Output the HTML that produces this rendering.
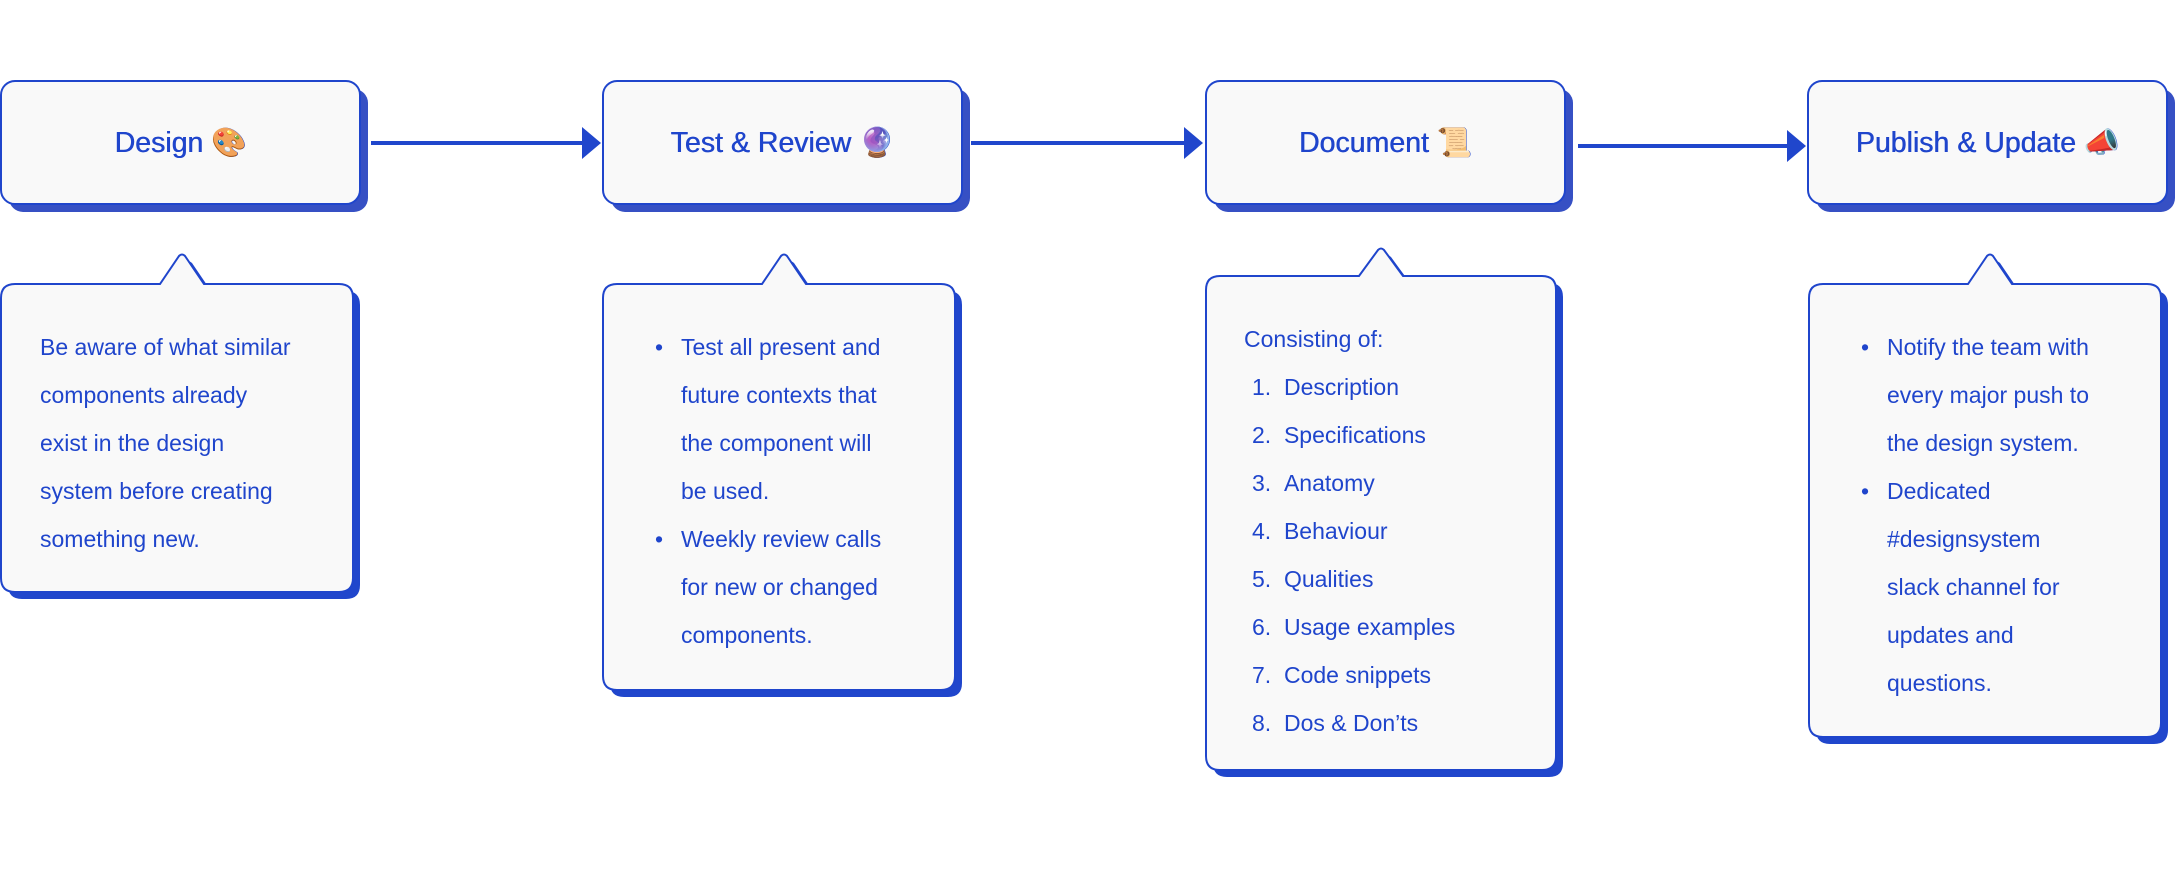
<!DOCTYPE html>
<html><head><meta charset="utf-8"><style>
html,body{margin:0;padding:0;background:#fff;width:2176px;height:874px;overflow:hidden;position:relative;font-family:"Liberation Sans","DejaVu Sans",sans-serif;color:#1f45cc}
svg{position:absolute;left:0;top:0}
.t{position:absolute;top:81px;height:123px;width:361px;display:flex;align-items:center;justify-content:center;font-size:28.5px;text-shadow:0.5px 0 0 #1f45cc}
.b{position:absolute;font-size:23px;line-height:48px;white-space:nowrap}
.b div{position:relative}
.bul{padding-left:26px}
.bul span.d{position:absolute;left:0;top:0;width:24px;text-align:left}
</style></head><body>
<svg width="2176" height="874" viewBox="0 0 2176 874">
<defs>
<rect id="tb" x="1" y="81" width="359" height="123" rx="14"/>
<path id="c1" d="M15,284 H160 L179,256 Q182,253 185,256 L204,284 H339 Q353,284 353,298 V578 Q353,592 339,592 H15 Q1,592 1,578 V298 Q1,284 15,284 Z"/>
<path id="c2" d="M617,284 H762 L781,256 Q784,253 787,256 L806,284 H941 Q955,284 955,298 V676 Q955,690 941,690 H617 Q603,690 603,676 V298 Q603,284 617,284 Z"/>
<path id="c3" d="M1220,276 H1359 L1378,250 Q1381,247 1384,250 L1403,276 H1542 Q1556,276 1556,290 V756 Q1556,770 1542,770 H1220 Q1206,770 1206,756 V290 Q1206,276 1220,276 Z"/>
<path id="c4" d="M1823,284 H1968 L1987,256 Q1990,253 1993,256 L2012,284 H2147 Q2161,284 2161,298 V723 Q2161,737 2147,737 H1823 Q1809,737 1809,723 V298 Q1809,284 1823,284 Z"/>
</defs>
<g fill="#3650c4">
<use href="#tb" transform="translate(8,8)"/>
<use href="#tb" transform="translate(610,8)"/>
<use href="#tb" transform="translate(1213,8)"/>
<use href="#tb" transform="translate(1815,8)"/>
</g>
<g fill="#f9f9f9" stroke="#1f45cc" stroke-width="2">
<use href="#tb"/>
<use href="#tb" transform="translate(602,0)"/>
<use href="#tb" transform="translate(1205,0)"/>
<use href="#tb" transform="translate(1807,0)"/>
</g>
<g fill="#2046cc">
<use href="#c1" transform="translate(7,7)"/>
<use href="#c2" transform="translate(7,7)"/>
<use href="#c3" transform="translate(7,7)"/>
<use href="#c4" transform="translate(7,7)"/>
</g>
<g fill="#f9f9f9" stroke="#1f45cc" stroke-width="2">
<use href="#c1"/><use href="#c2"/><use href="#c3"/><use href="#c4"/>
</g>
<g stroke="#2046cc" stroke-width="4">
<line x1="371" y1="143" x2="586" y2="143"/>
<line x1="971" y1="143" x2="1188" y2="143"/>
<line x1="1578" y1="146" x2="1791" y2="146"/>
</g>
<g fill="#2046cc">
<polygon points="582,127 601,143 582,159"/>
<polygon points="1184,127 1203,143 1184,159"/>
<polygon points="1787,130 1806,146 1787,162"/>
</g>
</svg>
<div class="t" style="left:0">Design&nbsp;🎨</div>
<div class="t" style="left:602px">Test &amp; Review&nbsp;🔮</div>
<div class="t" style="left:1205px">Document&nbsp;📜</div>
<div class="t" style="left:1807px">Publish &amp; Update&nbsp;📣</div>

<div class="b" style="left:40px;top:323px">
<div>Be aware of what similar</div><div>components already</div><div>exist in the design</div><div>system before creating</div><div>something new.</div>
</div>
<div class="b" style="left:655px;top:323px">
<div class="bul"><span class="d">•</span>Test all present and</div>
<div class="bul">future contexts that</div>
<div class="bul">the component will</div>
<div class="bul">be used.</div>
<div class="bul"><span class="d">•</span>Weekly review calls</div>
<div class="bul">for new or changed</div>
<div class="bul">components.</div>
</div>
<div class="b" style="left:1244px;top:315px">
<div>Consisting of:</div>
<div style="padding-left:8px">1.&nbsp;&nbsp;Description</div>
<div style="padding-left:8px">2.&nbsp;&nbsp;Specifications</div>
<div style="padding-left:8px">3.&nbsp;&nbsp;Anatomy</div>
<div style="padding-left:8px">4.&nbsp;&nbsp;Behaviour</div>
<div style="padding-left:8px">5.&nbsp;&nbsp;Qualities</div>
<div style="padding-left:8px">6.&nbsp;&nbsp;Usage examples</div>
<div style="padding-left:8px">7.&nbsp;&nbsp;Code snippets</div>
<div style="padding-left:8px">8.&nbsp;&nbsp;Dos &amp; Don’ts</div>
</div>
<div class="b" style="left:1861px;top:323px">
<div class="bul"><span class="d">•</span>Notify the team with</div>
<div class="bul">every major push to</div>
<div class="bul">the design system.</div>
<div class="bul"><span class="d">•</span>Dedicated</div>
<div class="bul">#designsystem</div>
<div class="bul">slack channel for</div>
<div class="bul">updates and</div>
<div class="bul">questions.</div>
</div>
</body></html>
